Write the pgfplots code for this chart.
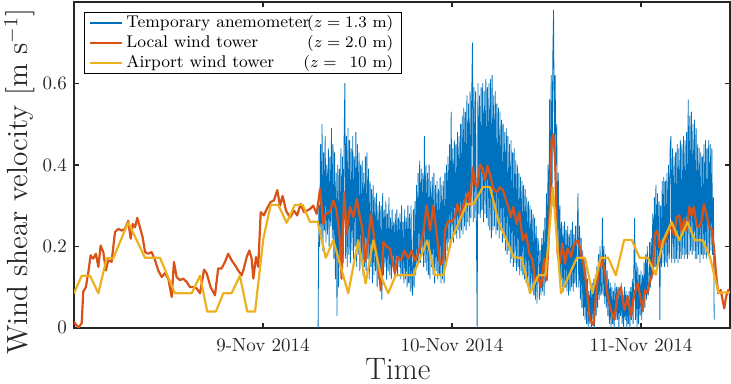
\documentclass[border=0pt]{standalone}
\usepackage{pgfplots}
\pgfplotsset{compat=1.18}
\definecolor{mblue}{rgb}{0,0.447,0.741}
\definecolor{mred}{rgb}{0.85,0.325,0.098}
\definecolor{myellow}{rgb}{0.929,0.694,0.125}
\definecolor{maxis}{rgb}{0.15,0.15,0.15}

\begin{document}
\begin{tikzpicture}
\begin{axis}[
    scale only axis, width=328pt, height=163pt,
    xmin=0, xmax=3.47, ymin=0, ymax=0.8,
    xtick={1,2,3}, xticklabels={9-Nov 2014,10-Nov 2014,11-Nov 2014},
    ytick={0,0.2,0.4,0.6}, yticklabels={0,0.2,0.4,0.6},
    tick align=inside, major tick length=2.6pt,
    axis line style={maxis, line width=0.8pt},
    every tick/.style={maxis, line width=0.8pt},
    ticklabel style={font=\fontsize{9.5}{11}\selectfont, text=maxis},
    xticklabel style={anchor=base, yshift=-12pt},
    xlabel={Time}, ylabel={Wind shear velocity [m s$^{-1}$]},
    xlabel style={font=\fontsize{15.5}{17}\selectfont, text=maxis, at={(axis description cs:0.494,-0.157)}, anchor=base},
    ylabel style={font=\fontsize{14.6}{17}\selectfont, text=maxis, at={(axis description cs:-0.0705,0.448)}, anchor=base},
    legend style={at={(rel axis cs:0.0152,0.969)}, anchor=north west, draw=black, line width=0.7pt,
        font=\fontsize{8.5}{10}\selectfont, legend cell align=left,
        inner xsep=2pt, inner ysep=1pt, row sep=1.5pt,
        nodes={inner xsep=2pt, inner ysep=0pt, text height=6.2pt, text depth=2.3pt}},
    legend image code/.code={\draw[#1, line width=0.9pt] (0pt,0pt) -- (16pt,0pt);},
]
% temporary anemometer, sampled every 0.1 h from 31 h after 8-Nov 00:00
\addplot[mblue, line width=0.4pt, line join=round] table[row sep=\\, header=false, y index=0, x expr={31/24+\coordindex/240}] {
0.00\\0.30\\0.20\\0.45\\0.22\\0.50\\0.19\\0.43\\0.24\\0.47\\0.21\\0.40\\0.23\\0.44\\0.20\\0.42\\0.25\\0.49\\0.22\\0.45\\
0.17\\0.43\\0.12\\0.38\\0.03\\0.40\\0.10\\0.39\\0.15\\0.44\\0.12\\0.42\\0.16\\0.46\\0.60\\0.17\\0.47\\0.15\\0.49\\0.18\\
0.46\\0.16\\0.44\\0.19\\0.47\\0.17\\0.42\\0.20\\0.48\\0.15\\0.45\\0.18\\0.43\\0.14\\0.40\\0.16\\0.41\\0.13\\0.38\\0.15\\
0.42\\0.14\\0.43\\0.17\\0.39\\0.12\\0.36\\0.15\\0.34\\0.11\\0.35\\0.13\\0.32\\0.14\\0.33\\0.10\\0.30\\0.12\\0.31\\0.09\\
0.30\\0.07\\0.33\\0.13\\0.29\\0.15\\0.31\\0.12\\0.28\\0.14\\0.32\\0.13\\0.27\\0.12\\0.29\\0.15\\0.26\\0.13\\0.28\\0.14\\
0.29\\0.13\\0.27\\0.15\\0.28\\0.12\\0.30\\0.13\\0.26\\0.11\\0.29\\0.12\\0.27\\0.10\\0.30\\0.11\\0.28\\0.09\\0.30\\0.10\\
0.08\\0.29\\0.10\\0.31\\0.13\\0.35\\0.15\\0.38\\0.17\\0.41\\0.16\\0.39\\0.18\\0.38\\0.15\\0.47\\0.16\\0.40\\0.14\\0.38\\
0.13\\0.40\\0.12\\0.36\\0.15\\0.37\\0.13\\0.38\\0.11\\0.35\\0.14\\0.36\\0.12\\0.34\\0.13\\0.37\\0.11\\0.35\\0.12\\0.36\\
0.11\\0.38\\0.15\\0.40\\0.19\\0.42\\0.21\\0.45\\0.20\\0.53\\0.22\\0.44\\0.21\\0.46\\0.23\\0.45\\0.22\\0.48\\0.24\\0.47\\
0.22\\0.50\\0.24\\0.52\\0.23\\0.54\\0.25\\0.53\\0.24\\0.57\\0.26\\0.55\\0.25\\0.58\\0.27\\0.56\\0.70\\0.26\\0.59\\0.27\\
0.58\\0.25\\0.00\\0.60\\0.28\\0.57\\0.27\\0.59\\0.29\\0.60\\0.26\\0.58\\0.28\\0.61\\0.27\\0.59\\0.25\\0.60\\0.24\\0.61\\
0.22\\0.62\\0.24\\0.57\\0.25\\0.58\\0.23\\0.55\\0.24\\0.54\\0.22\\0.53\\0.24\\0.51\\0.21\\0.50\\0.22\\0.48\\0.19\\0.49\\
0.18\\0.47\\0.19\\0.45\\0.16\\0.46\\0.17\\0.43\\0.15\\0.44\\0.16\\0.41\\0.14\\0.40\\0.15\\0.38\\0.13\\0.37\\0.14\\0.36\\
0.13\\0.35\\0.12\\0.34\\0.11\\0.32\\0.12\\0.31\\0.10\\0.30\\0.09\\0.29\\0.10\\0.28\\0.08\\0.27\\0.07\\0.25\\0.06\\0.22\\
0.20\\0.07\\0.19\\0.08\\0.22\\0.09\\0.24\\0.08\\0.27\\0.11\\0.33\\0.16\\0.40\\0.22\\0.56\\0.26\\0.62\\0.30\\0.66\\0.78\\
0.45\\0.62\\0.40\\0.50\\0.22\\0.38\\0.16\\0.30\\0.12\\0.26\\0.10\\0.25\\0.09\\0.26\\0.10\\0.24\\0.09\\0.25\\0.08\\0.23\\
0.09\\0.24\\0.10\\0.26\\0.09\\0.23\\0.11\\0.25\\0.10\\0.22\\0.33\\0.10\\0.25\\0.07\\0.22\\0.05\\0.19\\0.03\\0.17\\0.02\\
0.15\\0.01\\0.12\\0.00\\0.09\\0.01\\0.10\\0.00\\0.11\\0.02\\0.12\\0.00\\0.13\\0.03\\0.15\\0.05\\0.18\\0.07\\0.20\\0.08\\
0.09\\0.27\\0.08\\0.20\\0.06\\0.18\\0.05\\0.14\\0.03\\0.12\\0.01\\0.11\\0.00\\0.10\\0.01\\0.09\\0.00\\0.11\\0.02\\0.10\\
0.02\\0.10\\0.00\\0.09\\0.03\\0.11\\0.01\\0.08\\0.00\\0.10\\0.02\\0.09\\0.00\\0.08\\0.01\\0.09\\0.00\\0.10\\0.02\\0.12\\
0.01\\0.15\\0.27\\0.02\\0.16\\0.00\\0.15\\0.01\\0.13\\0.03\\0.14\\0.02\\0.13\\0.04\\0.16\\0.05\\0.18\\0.07\\0.20\\0.08\\
0.09\\0.21\\0.10\\0.22\\0.12\\0.28\\0.14\\0.32\\0.15\\0.35\\0.13\\0.33\\0.16\\0.31\\0.02\\0.30\\0.15\\0.36\\0.16\\0.37\\
0.15\\0.36\\0.16\\0.38\\0.15\\0.40\\0.17\\0.44\\0.47\\0.16\\0.44\\0.17\\0.42\\0.16\\0.43\\0.17\\0.45\\0.16\\0.44\\0.17\\
0.46\\0.17\\0.45\\0.18\\0.47\\0.17\\0.46\\0.18\\0.48\\0.17\\0.56\\0.18\\0.52\\0.19\\0.53\\0.18\\0.50\\0.19\\0.51\\0.17\\
0.49\\0.17\\0.45\\0.18\\0.44\\0.16\\0.43\\0.18\\0.42\\0.17\\0.45\\0.18\\0.46\\0.17\\0.44\\0.19\\0.46\\0.18\\0.45\\0.19\\
0.44\\0.18\\0.32\\0.02\\
};
\addlegendentry{\makebox[93.5pt][l]{Temporary anemometer}\makebox[40pt][r]{$(z = 1.3\ \mathrm{m})$}}
% local wind tower
\addplot[mred, line width=1.1pt, line join=round] coordinates {
(0.000,0.015) (0.023,0.000) (0.041,0.012) (0.049,0.089) (0.063,0.100) (0.076,0.137) (0.088,0.178) (0.102,0.170)
(0.116,0.182) (0.129,0.150) (0.141,0.202) (0.155,0.186) (0.169,0.141) (0.181,0.166) (0.199,0.162) (0.217,0.235)
(0.234,0.243) (0.252,0.239) (0.270,0.243) (0.287,0.263) (0.300,0.219) (0.311,0.255) (0.323,0.247) (0.335,0.270)
(0.349,0.247) (0.363,0.223) (0.376,0.186) (0.393,0.182) (0.411,0.186) (0.429,0.166) (0.446,0.141) (0.464,0.125)
(0.481,0.134) (0.499,0.121) (0.517,0.076) (0.529,0.162) (0.543,0.125) (0.561,0.117) (0.578,0.121) (0.596,0.113)
(0.614,0.100) (0.631,0.100) (0.649,0.097) (0.667,0.085) (0.688,0.143) (0.702,0.134) (0.723,0.100) (0.746,0.080)
(0.763,0.146) (0.781,0.146) (0.799,0.162) (0.816,0.182) (0.834,0.166) (0.852,0.154) (0.869,0.141) (0.887,0.129)
(0.899,0.146) (0.914,0.174) (0.928,0.190) (0.940,0.170) (0.949,0.121) (0.963,0.174) (0.975,0.150) (0.988,0.284)
(1.005,0.276) (1.020,0.292) (1.041,0.309) (1.058,0.313) (1.076,0.338) (1.090,0.300) (1.104,0.324) (1.122,0.288)
(1.143,0.271) (1.164,0.288) (1.181,0.276) (1.199,0.304) (1.217,0.284) (1.249,0.292) (1.266,0.300) (1.284,0.280)
(1.302,0.341) (1.319,0.255) (1.332,0.280) (1.354,0.284) (1.372,0.313) (1.390,0.288) (1.407,0.215) (1.416,0.121)
(1.430,0.333) (1.443,0.231) (1.460,0.297) (1.478,0.272) (1.496,0.316) (1.513,0.272) (1.525,0.247) (1.540,0.162)
(1.557,0.219) (1.571,0.280) (1.589,0.219) (1.607,0.166) (1.624,0.093) (1.637,0.211) (1.654,0.199) (1.672,0.195)
(1.684,0.166) (1.698,0.134) (1.713,0.174) (1.730,0.166) (1.748,0.190) (1.769,0.170) (1.787,0.190) (1.804,0.166)
(1.822,0.182) (1.831,0.198) (1.848,0.231) (1.866,0.300) (1.884,0.239) (1.901,0.300) (1.919,0.231) (1.937,0.154)
(1.954,0.166) (1.963,0.239) (1.980,0.263) (1.998,0.260) (2.016,0.272) (2.028,0.304) (2.046,0.276) (2.069,0.313)
(2.086,0.333) (2.095,0.300) (2.110,0.394) (2.122,0.353) (2.134,0.345) (2.148,0.402) (2.162,0.390) (2.175,0.361)
(2.187,0.398) (2.201,0.377) (2.219,0.341) (2.236,0.333) (2.254,0.345) (2.271,0.337) (2.286,0.313) (2.298,0.297)
(2.311,0.272) (2.324,0.297) (2.342,0.255) (2.356,0.284) (2.374,0.215) (2.392,0.231) (2.409,0.182) (2.427,0.166)
(2.439,0.117) (2.457,0.125) (2.471,0.100) (2.488,0.170) (2.501,0.117) (2.513,0.231) (2.527,0.459) (2.536,0.475)
(2.545,0.418) (2.559,0.182) (2.571,0.158) (2.584,0.207) (2.598,0.158) (2.612,0.195) (2.630,0.174) (2.647,0.207)
(2.665,0.215) (2.677,0.198) (2.695,0.158) (2.713,0.100) (2.730,0.020) (2.748,0.007) (2.760,0.068) (2.774,0.134)
(2.792,0.174) (2.810,0.134) (2.824,0.076) (2.841,0.044) (2.859,0.020) (2.877,0.085) (2.894,0.100) (2.912,0.044)
(2.930,0.076) (2.947,0.028) (2.965,0.085) (2.983,0.109) (2.995,0.080) (3.009,0.044) (3.021,0.093) (3.033,0.085)
(3.048,0.114) (3.062,0.134) (3.074,0.231) (3.086,0.239) (3.097,0.198) (3.110,0.215) (3.122,0.207) (3.136,0.223)
(3.150,0.243) (3.162,0.251) (3.175,0.227) (3.189,0.272) (3.203,0.276) (3.215,0.235) (3.228,0.268) (3.242,0.239)
(3.256,0.297) (3.268,0.276) (3.280,0.297) (3.295,0.251) (3.308,0.247) (3.321,0.263) (3.333,0.304) (3.348,0.276)
(3.361,0.247) (3.374,0.243) (3.386,0.198) (3.397,0.134) (3.409,0.085) (3.422,0.093) (3.432,0.068) (3.441,0.048)
(3.450,0.076) (3.462,0.093) (3.471,0.089)
};
\addlegendentry{\makebox[93.5pt][l]{Local wind tower}\makebox[40pt][r]{$(z = 2.0\ \mathrm{m})$}}
% airport wind tower
\addplot[myellow, line width=1.1pt, line join=round] coordinates {
(0.000,0.085) (0.041,0.128) (0.085,0.128) (0.129,0.085) (0.173,0.171) (0.208,0.171) (0.287,0.259) (0.376,0.172)
(0.455,0.172) (0.534,0.085) (0.623,0.085) (0.667,0.128) (0.705,0.040) (0.751,0.040) (0.790,0.085) (0.834,0.085)
(0.878,0.128) (0.917,0.040) (0.958,0.040) (1.002,0.219) (1.041,0.302) (1.081,0.302) (1.125,0.258) (1.169,0.302)
(1.210,0.302) (1.249,0.260) (1.289,0.261) (1.332,0.172) (1.372,0.215) (1.451,0.085) (1.504,0.215) (1.543,0.109)
(1.584,0.215) (1.624,0.127) (1.663,0.085) (1.702,0.129) (1.795,0.129) (1.869,0.215) (1.910,0.129) (1.954,0.129)
(1.998,0.218) (2.078,0.304) (2.113,0.304) (2.164,0.346) (2.201,0.346) (2.245,0.262) (2.328,0.173) (2.369,0.172)
(2.413,0.085) (2.457,0.129) (2.495,0.129) (2.534,0.345) (2.577,0.085) (2.661,0.172) (2.704,0.172) (2.743,0.085)
(2.786,0.172) (2.827,0.172) (2.867,0.129) (2.911,0.216) (2.951,0.216) (2.993,0.172) (3.037,0.172) (3.077,0.131)
(3.118,0.215) (3.162,0.260) (3.203,0.215) (3.245,0.260) (3.286,0.215) (3.326,0.215) (3.365,0.174) (3.410,0.087)
(3.471,0.087)
};
\addlegendentry{\makebox[93.5pt][l]{Airport wind tower}\makebox[40pt][r]{$(z = \phantom{0}10\ \mathrm{m})$}}
\coordinate (tl) at (rel axis cs:0,1);
\coordinate (br) at (rel axis cs:1,0);
\end{axis}
\pgfresetboundingbox
\path[use as bounding box] ([xshift=-37pt,yshift=1pt]tl) rectangle ([xshift=0.6pt,yshift=-28pt]br);
\end{tikzpicture}
\end{document}
